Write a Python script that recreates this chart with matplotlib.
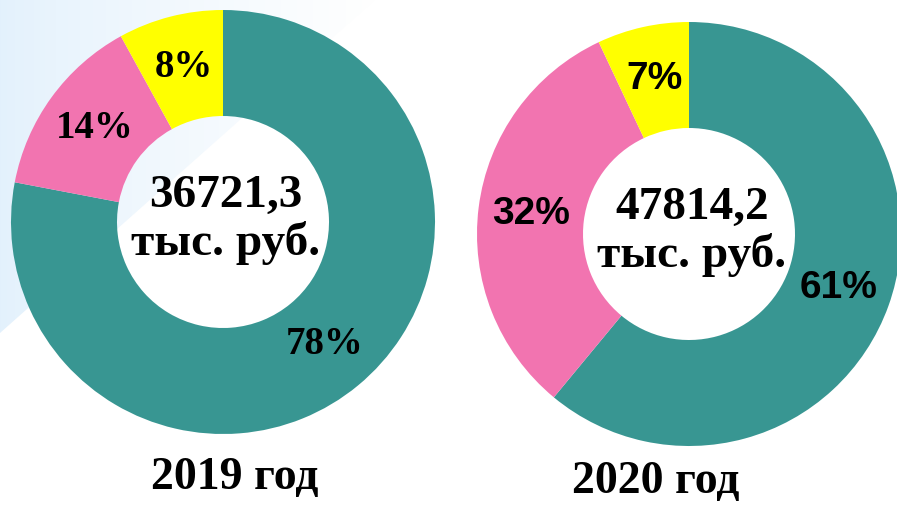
import matplotlib.pyplot as plt
import numpy as np
from matplotlib.patches import Polygon

# Data
years = ["2019 год", "2020 год"]
totals = ["36721,3\nтыс. руб.", "47814,2\nтыс. руб."]
shares_2019 = [78, 14, 8]
shares_2020 = [61, 32, 7]
colors = ["#389692", "#F274B0", "#FFFF00"]

W, H = 897, 505
fig = plt.figure(figsize=(W / 100, H / 100), dpi=100)
ax = fig.add_axes([0, 0, 1, 1])
ax.set_xlim(0, W)
ax.set_ylim(0, H)
ax.set_aspect("equal")
ax.axis("off")

# light blue background shape with a fade to white
grad = np.linspace(0, 1, 256)
img = np.ones((2, 256, 4))
c0 = np.array([0.89, 0.945, 0.99])
for k in range(3):
    img[:, :, k] = c0[k] + (1 - c0[k]) * grad ** 0.8
img[:, :, 3] = 1
im = ax.imshow(img, extent=[0, 380, 0, H], aspect="auto", zorder=0)
poly = Polygon([(0, H), (375, H), (0, H - 333)], closed=True, transform=ax.transData)
im.set_clip_path(poly)

centers = [(223, H - 222), (689, H - 234)]
radius = 212
ring = 106
label_fonts = ["Liberation Serif", "Liberation Sans"]

for i, shares in enumerate([shares_2019, shares_2020]):
    wedges, texts, autotexts = ax.pie(
        shares, colors=colors, startangle=90, counterclock=False,
        center=centers[i], radius=radius, autopct="%.0f%%", pctdistance=0.75,
        wedgeprops=dict(width=ring, linewidth=0),
        textprops=dict(fontsize=28, fontweight="bold", family=label_fonts[i], color="black"),
        frame=True,
    )
    cx, cy = centers[i]
    ax.text(cx + 3, cy + 2, totals[i], ha="center", va="center", fontsize=34,
            fontweight="bold", family="Liberation Serif", linespacing=1.12)

ax.set_xlim(0, W)
ax.set_ylim(0, H)
ax.axis("off")

ax.text(235, H - 478, years[0], ha="center", va="center", fontsize=33,
        fontweight="bold", family="Liberation Serif")
ax.text(656, H - 482, years[1], ha="center", va="center", fontsize=33,
        fontweight="bold", family="Liberation Serif")

fig.savefig("out.png", dpi=100)
